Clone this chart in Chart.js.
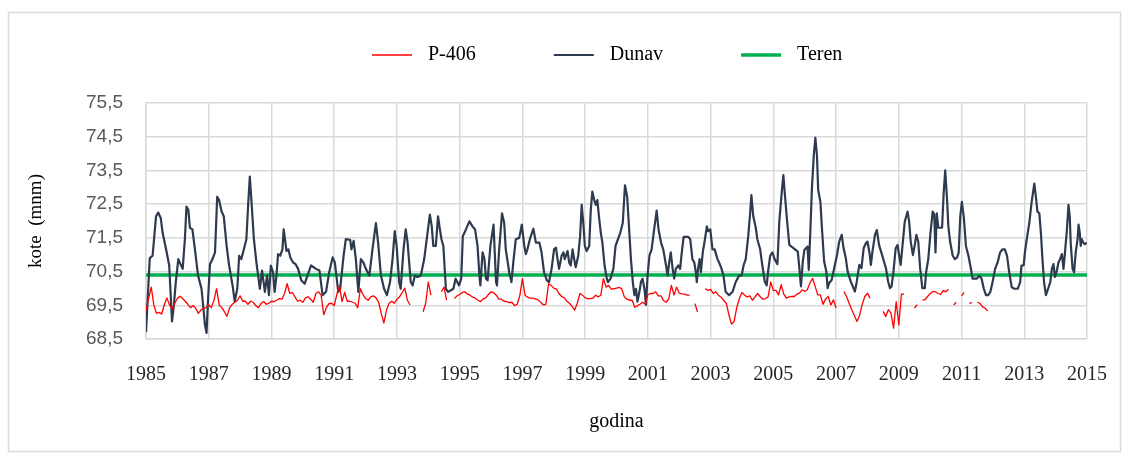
<!DOCTYPE html>
<html>
<head>
<meta charset="utf-8">
<script src="https://cdn.jsdelivr.net/npm/chart.js@4.4.1/dist/chart.umd.min.js"></script>
<style>
  html, body { margin: 0; padding: 0; background: #fff; }
  #wrap { width: 1131px; height: 461px; }
</style>
</head>
<body>
<div id="wrap"><canvas id="lineChart" width="1131" height="461"></canvas></div>
<script>
// series names as in the legend
const seriesNames = ["P-406", "Dunav", "Teren"];

// axis ticks
const xTickValues = [1985, 1987, 1989, 1991, 1993, 1995, 1997, 1999, 2001, 2003, 2005, 2007, 2009, 2011, 2013, 2015];
const yTickValues = [68.5, 69.5, 70.5, 71.5, 72.5, 73.5, 74.5, 75.5];

// Dunav water level, [year, level] (turning points)
const dunavPoints = [
  [1985.00, 68.70], [1985.12, 70.90], [1985.21, 70.97], [1985.32, 72.14], [1985.39, 72.25], [1985.47, 72.09],
  [1985.53, 71.65], [1985.64, 71.16], [1985.74, 70.68], [1985.83, 69.02], [1985.89, 69.51], [1985.95, 70.19],
  [1986.03, 70.87], [1986.10, 70.72], [1986.17, 70.58], [1986.24, 71.46], [1986.29, 72.43], [1986.35, 72.33],
  [1986.40, 71.80], [1986.48, 71.75], [1986.56, 71.16], [1986.66, 70.38], [1986.77, 69.99], [1986.88, 68.92],
  [1986.93, 68.68], [1986.98, 69.70],
  [1987.04, 70.72], [1987.12, 70.87], [1987.20, 71.07], [1987.27, 72.72], [1987.33, 72.62], [1987.41, 72.28],
  [1987.48, 72.14], [1987.57, 71.26], [1987.65, 70.68], [1987.76, 70.09], [1987.83, 69.61], [1987.91, 69.99],
  [1987.97, 70.97],
  [1988.04, 70.87], [1988.12, 71.16], [1988.20, 71.46], [1988.26, 72.53], [1988.31, 73.32], [1988.37, 72.48],
  [1988.44, 71.46], [1988.52, 70.77], [1988.63, 69.99], [1988.70, 70.53], [1988.79, 69.90], [1988.86, 70.38],
  [1988.92, 69.80], [1988.98, 70.68],
  [1989.05, 70.48], [1989.10, 69.90], [1989.16, 70.38], [1989.21, 71.02], [1989.28, 70.97], [1989.35, 71.16],
  [1989.39, 71.75], [1989.43, 71.46], [1989.48, 71.11], [1989.54, 71.16], [1989.60, 70.92], [1989.69, 70.77],
  [1989.77, 70.72], [1989.85, 70.58], [1989.95, 70.24],
  [1990.06, 70.14], [1990.26, 70.68], [1990.42, 70.58], [1990.53, 70.53], [1990.63, 69.80], [1990.74, 69.90],
  [1990.84, 70.48], [1990.95, 70.92],
  [1991.02, 70.77], [1991.13, 69.90], [1991.19, 69.99], [1991.30, 70.97], [1991.37, 71.46], [1991.51, 71.44],
  [1991.55, 71.16], [1991.62, 71.41], [1991.69, 70.87], [1991.77, 69.90], [1991.85, 70.87], [1991.93, 70.77],
  [1992.01, 70.58], [1992.12, 70.38], [1992.22, 71.16], [1992.33, 71.94], [1992.40, 71.36], [1992.49, 70.38],
  [1992.59, 69.99], [1992.68, 69.80], [1992.78, 70.19], [1992.86, 70.87], [1992.93, 71.70], [1992.99, 71.26],
  [1993.07, 70.19], [1993.12, 69.99], [1993.21, 71.16], [1993.28, 71.75], [1993.34, 71.36], [1993.44, 70.19],
  [1993.50, 70.09], [1993.57, 70.38], [1993.65, 70.34], [1993.76, 70.38], [1993.87, 70.87], [1993.95, 71.46],
  [1994.05, 72.19], [1994.11, 71.84], [1994.16, 71.26], [1994.24, 71.26], [1994.31, 72.14], [1994.37, 71.75],
  [1994.42, 71.46], [1994.48, 71.26], [1994.56, 69.99], [1994.63, 69.90], [1994.71, 69.94], [1994.80, 69.99],
  [1994.87, 70.29], [1994.98, 70.09],
  [1995.05, 70.29], [1995.10, 71.55], [1995.20, 71.75], [1995.31, 71.99], [1995.41, 71.84], [1995.49, 71.75],
  [1995.57, 71.26], [1995.63, 70.38], [1995.66, 70.09], [1995.73, 71.07], [1995.79, 70.87], [1995.84, 70.29],
  [1995.89, 70.24], [1995.98, 71.26],
  [1996.08, 71.89], [1996.16, 70.19], [1996.19, 70.09], [1996.26, 71.16], [1996.35, 72.23], [1996.42, 71.94],
  [1996.47, 71.16], [1996.58, 70.48], [1996.65, 70.19], [1996.72, 70.87], [1996.79, 71.46], [1996.90, 71.50],
  [1996.98, 71.89],
  [1997.06, 71.26], [1997.11, 71.02], [1997.16, 71.16], [1997.25, 71.50], [1997.35, 71.77], [1997.43, 71.36],
  [1997.54, 71.36], [1997.61, 71.07], [1997.69, 70.48], [1997.78, 70.24], [1997.85, 70.19], [1997.93, 70.58],
  [1998.01, 71.16], [1998.07, 71.21], [1998.12, 70.87], [1998.17, 70.58], [1998.25, 70.97], [1998.31, 71.07],
  [1998.35, 70.87], [1998.44, 71.11], [1998.49, 70.77], [1998.54, 70.68], [1998.60, 71.16], [1998.65, 70.87],
  [1998.70, 70.63], [1998.78, 70.97], [1998.84, 71.55], [1998.89, 72.48], [1998.95, 71.84], [1998.99, 71.26],
  [1999.05, 71.11], [1999.13, 71.26], [1999.18, 72.33], [1999.23, 72.87], [1999.29, 72.62], [1999.34, 72.48],
  [1999.39, 72.62], [1999.44, 72.14], [1999.50, 71.65], [1999.55, 71.36], [1999.62, 70.68], [1999.69, 70.29],
  [1999.73, 70.19], [1999.81, 70.29], [1999.90, 70.58], [1999.97, 71.26],
  [2000.12, 71.65], [2000.20, 71.94], [2000.27, 73.06], [2000.34, 72.72], [2000.41, 71.65], [2000.46, 70.87],
  [2000.52, 70.19], [2000.57, 69.80], [2000.62, 69.99], [2000.67, 69.61], [2000.73, 69.90], [2000.78, 70.19],
  [2000.83, 70.29], [2000.89, 69.99], [2000.94, 69.51], [2000.99, 70.38],
  [2001.05, 70.97], [2001.12, 71.16], [2001.20, 71.75], [2001.28, 72.31], [2001.34, 71.75], [2001.42, 71.36],
  [2001.49, 71.16], [2001.58, 70.68], [2001.63, 70.38], [2001.68, 70.77], [2001.73, 71.07], [2001.79, 70.58],
  [2001.84, 70.29], [2001.89, 70.58], [2001.97, 70.68],
  [2002.03, 70.58], [2002.07, 70.97], [2002.14, 71.53], [2002.29, 71.53], [2002.35, 71.46], [2002.42, 70.87],
  [2002.48, 70.77], [2002.53, 70.48], [2002.56, 70.19], [2002.60, 70.58], [2002.65, 70.87], [2002.69, 70.48],
  [2002.75, 71.07], [2002.82, 71.46], [2002.88, 71.84], [2002.92, 71.70], [2002.99, 71.75],
  [2003.06, 71.16], [2003.13, 71.16], [2003.22, 70.87], [2003.27, 70.77], [2003.35, 70.58], [2003.41, 70.38],
  [2003.48, 69.90], [2003.59, 69.80], [2003.70, 69.90], [2003.80, 70.19], [2003.91, 70.38], [2003.99, 70.38],
  [2004.05, 70.68], [2004.12, 70.87], [2004.20, 71.55], [2004.26, 72.23], [2004.30, 72.77], [2004.36, 72.14],
  [2004.44, 71.80], [2004.49, 71.46], [2004.58, 71.16], [2004.65, 70.68], [2004.73, 70.19], [2004.79, 70.09],
  [2004.83, 70.48], [2004.90, 70.97], [2004.97, 71.07],
  [2005.04, 70.87], [2005.13, 70.72], [2005.19, 71.98], [2005.27, 72.87], [2005.32, 73.36], [2005.37, 72.77],
  [2005.44, 71.98], [2005.51, 71.29], [2005.65, 71.19], [2005.78, 71.09], [2005.83, 70.60], [2005.88, 70.06],
  [2005.94, 70.80], [2005.99, 71.14],
  [2006.09, 71.24], [2006.13, 70.55], [2006.18, 71.69], [2006.23, 72.97], [2006.29, 73.95], [2006.34, 74.47],
  [2006.39, 73.95], [2006.43, 72.92], [2006.50, 72.57], [2006.55, 71.78], [2006.62, 70.80], [2006.69, 70.50],
  [2006.73, 70.01], [2006.78, 70.16], [2006.86, 70.25], [2006.94, 70.60],
  [2007.03, 70.99], [2007.10, 71.39], [2007.18, 71.59], [2007.24, 71.19], [2007.31, 70.90], [2007.37, 70.50],
  [2007.47, 70.20], [2007.60, 69.91], [2007.66, 70.20], [2007.74, 70.70], [2007.81, 70.60], [2007.88, 71.19],
  [2007.95, 71.34],
  [2008.00, 71.39], [2008.06, 71.09], [2008.11, 70.70], [2008.16, 71.09], [2008.24, 71.59], [2008.30, 71.73],
  [2008.37, 71.29], [2008.48, 70.95], [2008.59, 70.60], [2008.66, 70.20], [2008.72, 70.01], [2008.77, 70.06],
  [2008.83, 70.50], [2008.90, 71.19], [2008.96, 71.29],
  [2009.01, 70.99], [2009.06, 70.70], [2009.12, 71.29], [2009.19, 71.98], [2009.28, 72.28], [2009.33, 71.98],
  [2009.38, 71.39], [2009.45, 70.99], [2009.51, 71.29], [2009.56, 71.59], [2009.62, 71.39], [2009.68, 70.60],
  [2009.75, 70.01], [2009.83, 70.01], [2009.87, 70.48], [2009.94, 70.87],
  [2010.01, 71.65], [2010.08, 72.28], [2010.13, 72.19], [2010.17, 71.07], [2010.21, 72.23], [2010.26, 71.80],
  [2010.38, 71.80], [2010.43, 72.82], [2010.48, 73.50], [2010.54, 72.62], [2010.58, 71.84], [2010.64, 71.36],
  [2010.72, 70.97], [2010.79, 70.87], [2010.86, 70.92], [2010.91, 71.07], [2010.96, 72.14],
  [2011.01, 72.57], [2011.07, 72.14], [2011.14, 71.26], [2011.22, 70.97], [2011.30, 70.58], [2011.35, 70.29],
  [2011.49, 70.29], [2011.57, 70.38], [2011.64, 70.29], [2011.71, 69.99], [2011.78, 69.80], [2011.85, 69.80],
  [2011.92, 69.90], [2011.99, 70.19],
  [2012.07, 70.58], [2012.15, 70.77], [2012.23, 71.07], [2012.31, 71.16], [2012.38, 71.16], [2012.45, 70.97],
  [2012.52, 70.48], [2012.60, 70.04], [2012.68, 69.99], [2012.79, 69.99], [2012.87, 70.19], [2012.91, 70.68],
  [2012.98, 70.68],
  [2013.02, 71.07], [2013.08, 71.46], [2013.16, 71.94], [2013.23, 72.53], [2013.32, 73.11], [2013.37, 72.72],
  [2013.42, 72.28], [2013.48, 72.23], [2013.53, 71.65], [2013.58, 70.87], [2013.63, 70.19], [2013.69, 69.80],
  [2013.76, 69.99], [2013.83, 70.19], [2013.88, 70.58], [2013.93, 70.72], [2013.98, 70.34],
  [2014.04, 70.53], [2014.09, 70.77], [2014.14, 70.87], [2014.20, 71.02], [2014.25, 70.58], [2014.29, 70.97],
  [2014.36, 71.75], [2014.41, 72.48], [2014.45, 72.14], [2014.48, 71.36], [2014.54, 70.58], [2014.59, 70.48],
  [2014.64, 71.07], [2014.70, 71.46], [2014.73, 71.89], [2014.77, 71.65], [2014.80, 71.26], [2014.83, 71.46],
  [2014.88, 71.36], [2014.93, 71.31], [2014.99, 71.36]
];

// P-406 piezometer, monthly from January 1985 (null = no measurement)
const p406StartYear = 1985;
const p406Monthly = [
  69.34, 69.70, 70.04, 69.51, 69.26, 69.29, 69.24, 69.51, 69.72, 69.51, 69.39, 69.56, // 1985
  69.70, 69.77, 69.70, 69.62, 69.53, 69.43, 69.49, 69.41, 69.26, 69.36, 69.41, 69.43, // 1986
  69.51, 69.43, 69.65, 69.99, 69.51, 69.43, 69.31, 69.17, 69.43, 69.53, 69.59, 69.65, // 1987
  69.78, 69.62, 69.62, 69.53, 69.62, 69.59, 69.49, 69.43, 69.55, 69.61, 69.53, 69.56, // 1988
  69.62, 69.61, 69.65, 69.70, 69.68, 69.85, 70.14, 69.85, 69.88, 69.75, 69.62, 69.65, // 1989
  69.59, 69.72, 69.75, 69.68, 69.59, 69.85, 69.90, 69.80, 69.22, 69.43, 69.55, 69.56, // 1990
  69.49, 69.82, 70.09, 69.61, 69.88, 69.62, 69.62, 69.59, 69.56, 69.43, 69.99, 69.82, // 1991
  69.70, 69.65, 69.75, 69.78, 69.72, 69.59, 69.26, 68.97, 69.36, 69.56, 69.62, 69.56, // 1992
  69.68, 69.75, 69.88, 70.01, 69.65, 69.51, null, null, null, null, 69.31, 69.56,     // 1993
  70.19, 69.80, null, null, null, 69.90, 70.04, 69.65, null, null, 69.70, 69.78,       // 1994
  69.82, 69.88, 69.90, 69.83, 69.80, 69.74, 69.71, 69.65, 69.61, 69.69, 69.72, 69.82, // 1995
  69.90, 69.87, 69.80, 69.68, 69.68, 69.62, 69.61, 69.58, 69.59, 69.49, 69.53, 69.78, // 1996
  70.29, 69.80, 69.74, 69.71, 69.71, 69.69, 69.66, 69.59, 69.51, 69.53, 70.14, 70.09, // 1997
  70.01, 69.98, 69.85, 69.76, 69.73, 69.62, 69.56, 69.47, 69.36, 69.56, 69.85, 69.80, // 1998
  69.72, 69.70, 69.70, 69.71, 69.80, 69.75, 69.80, 70.29, 70.04, 70.09, 69.98, 69.99, // 1999
  70.01, 70.03, 69.99, 69.75, 69.68, 69.65, 69.65, 69.44, 69.49, 69.53, 69.59, 69.53, // 2000
  69.82, 69.85, 69.85, 69.90, 69.78, 69.78, 69.64, 69.59, 69.69, 70.09, 69.80, 70.04, // 2001
  69.86, 69.84, 69.83, 69.80, 69.80, null, 69.55, 69.30, null, null, 70.00, 69.94,     // 2002
  69.97, 69.85, 69.90, 69.80, 69.74, 69.65, 69.56, 69.22, 68.94, 69.02, 69.43, 69.70, // 2003
  69.88, 69.80, 69.75, 69.78, 69.65, 69.75, 69.85, 69.75, 69.68, 69.70, 69.75, 70.19, // 2004
  69.94, 69.94, 69.81, 70.11, 69.83, 69.71, 69.75, 69.76, 69.76, 69.83, 69.86, 69.96, // 2005
  69.91, 69.96, 70.16, 70.30, 70.06, 69.81, 69.81, 69.53, 69.69, 69.76, 69.51, 69.66, // 2006
  69.42, null, null, 69.91, 69.76, 69.56, 69.37, 69.20, 69.02, 69.20, 69.53, 69.76,   // 2007
  69.86, 69.71, null, null, null, null, 69.32, 69.17, 69.37, 69.27, 68.82, 69.61,     // 2008
  68.92, 69.83, 69.83, null, null, null, 69.42, 69.52, null, 69.66, 69.66, 69.76,     // 2009
  69.84, 69.91, 69.90, 69.85, 69.82, 69.94, 69.90, 69.98, null, 69.51, 69.59, null,   // 2010
  69.78, 69.88, null, 69.56, 69.58, null, 69.59, 69.56, 69.46, 69.41, 69.33           // 2011
];

// ground level (Teren)
const terenYears = [1985, 2015];
const terenLevels = [70.4, 70.4];

const seriesColors = ["#FF0000", "#2E3B4E", "#00B050"];
const seriesWidths = [1.3, 2.2, 3.6];

const serif = "'Liberation Serif', 'Times New Roman', serif";

// outer frame + legend drawn on the canvas
const framePlugin = {
    id: "frame",
    beforeDraw(chart) {
        const c = chart.ctx;
        c.save();
        c.fillStyle = "#ffffff";
        c.fillRect(0, 0, chart.width, chart.height);
        c.strokeStyle = "#D9D9D9";
        c.lineWidth = 1.5;
        c.strokeRect(8.5, 12.5, 1112, 439);
        c.restore();
    },
    afterDraw(chart) {
        const c = chart.ctx;
        c.save();
        c.font = "20px " + serif;
        c.textBaseline = "middle";
        c.fillStyle = "#000000";
        let x = 372;
        const y = 55;
        chart.data.datasets.forEach((ds) => {
            c.strokeStyle = ds.borderColor;
            c.lineWidth = ds.borderWidth;
            c.beginPath();
            c.moveTo(x, y);
            c.lineTo(x + 40, y);
            c.stroke();
            c.fillText(ds.label, x + 56, y);
            x += 56 + c.measureText(ds.label).width + 78;
        });
        c.restore();
    },
};

const chartData = {
    datasets: [
        {
            label: seriesNames[0],
            data: p406Monthly.map((v, i) => ({ x: p406StartYear + i / 12, y: v })),
            borderColor: seriesColors[0],
            borderWidth: seriesWidths[0],
        },
        {
            label: seriesNames[1],
            data: dunavPoints.map((p) => ({ x: p[0], y: p[1] })),
            borderColor: seriesColors[1],
            borderWidth: seriesWidths[1],
        },
        {
            label: seriesNames[2],
            data: terenYears.map((yr, i) => ({ x: yr, y: terenLevels[i] })),
            borderColor: seriesColors[2],
            borderWidth: seriesWidths[2],
        },
    ],
};

const config = {
    type: "line",
    data: chartData,
    options: {
        responsive: false,
        animation: false,
        spanGaps: false,
        layout: {
            padding: { left: 10, right: 42, top: 103, bottom: 0 },
        },
        elements: {
            point: { radius: 0, hoverRadius: 0 },
            line: { tension: 0, fill: false, borderJoinStyle: "round" },
        },
        scales: {
            x: {
                type: "linear",
                min: 1985,
                max: 2015,
                afterBuildTicks: (scale) => {
                    scale.ticks = xTickValues.map((v) => ({ value: v }));
                },
                afterFit: (scale) => {
                    scale.height = 122;
                },
                grid: { color: "#D9D9D9", lineWidth: 1.5, drawTicks: false },
                border: { color: "#D9D9D9", width: 1.5 },
                ticks: {
                    padding: 24,
                    maxRotation: 0,
                    autoSkip: false,
                    color: "#262626",
                    font: { family: serif, size: 20 },
                    callback: (value) => String(value),
                },
                title: {
                    display: true,
                    text: "godina",
                    color: "#000000",
                    font: { family: serif, size: 20 },
                    padding: { top: 0, bottom: 27 },
                },
            },
            y: {
                min: 68.5,
                max: 75.5,
                afterBuildTicks: (scale) => {
                    scale.ticks = yTickValues.map((v) => ({ value: v }));
                },
                afterFit: (scale) => {
                    scale.width = 136;
                },
                grid: { color: "#D9D9D9", lineWidth: 1.5, drawTicks: false },
                border: { color: "#D9D9D9", width: 1.5 },
                ticks: {
                    padding: 23,
                    color: "#595959",
                    font: { family: "'Liberation Sans', Arial, sans-serif", size: 19 },
                    callback: (value) => value.toFixed(1).replace(".", ","),
                },
                title: {
                    display: true,
                    text: "kote  (mnm)",
                    color: "#000000",
                    font: { family: serif, size: 19 },
                    padding: { top: 15, bottom: 0 },
                },
            },
        },
        plugins: {
            legend: { display: false },
            tooltip: { enabled: false },
        },
    },
    plugins: [framePlugin],
};

const lineChart = new Chart(document.getElementById("lineChart").getContext("2d"), config);
</script>
</body>
</html>
